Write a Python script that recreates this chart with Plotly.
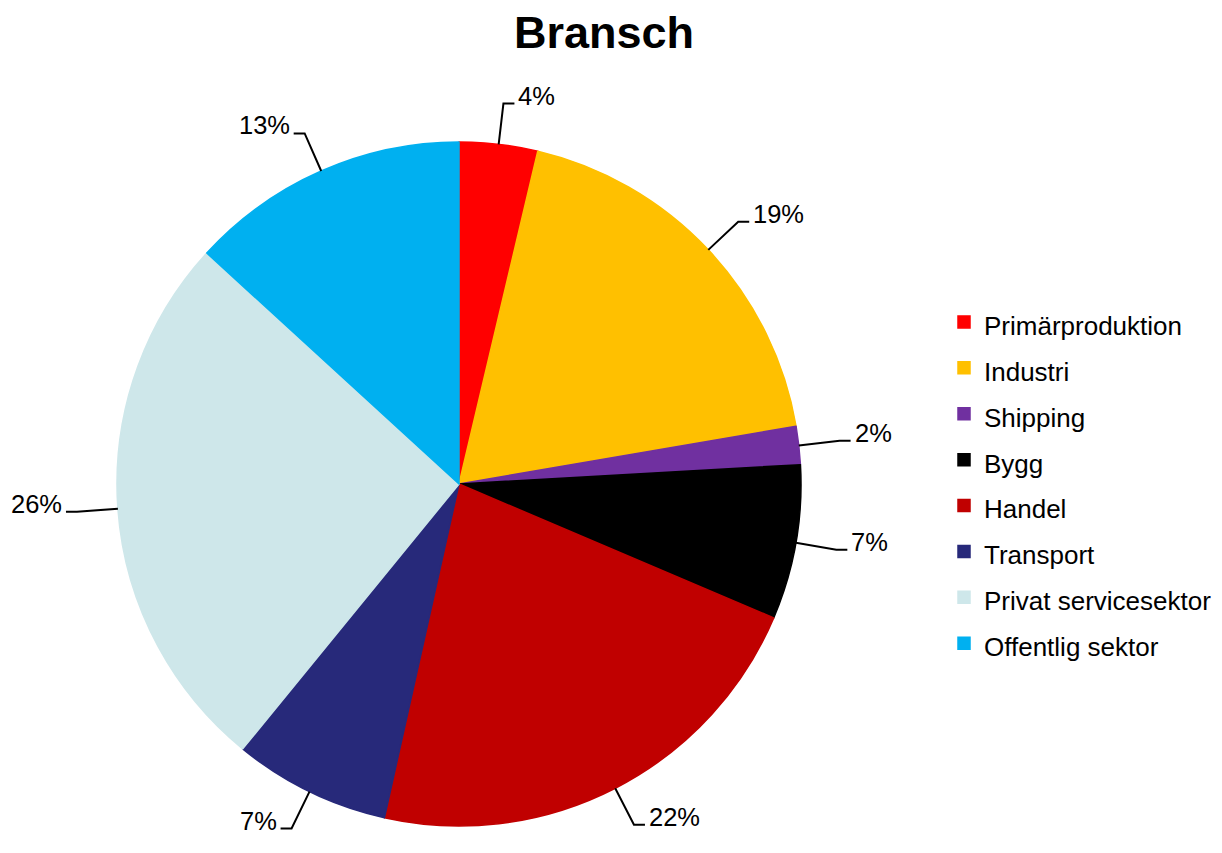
import math
import plotly.graph_objects as go

# ---- data ----
categories = ["Primärproduktion", "Industri", "Shipping", "Bygg", "Handel",
              "Transport", "Privat servicesektor", "Offentlig sektor"]
values = [3.7, 18.6, 1.8, 7.3, 22.1, 7.4, 25.9, 13.2]
colors = ["#FF0000", "#FFC000", "#7030A0", "#000000", "#C00000",
          "#27297A", "#CEE7EA", "#00B0F0"]
title_text = "Bransch"

# ---- layout constants (page pixels) ----
W, H = 1222, 853
BODY = 8                            # default page margin around the plot div
CX, CY, R = 459 - BODY, 484 - BODY, 342
ELBOW_R = 1.12                      # leader-line elbow distance (fraction of R)
TAIL = 11                           # horizontal leader segment, px
FONT = "Liberation Sans, Arial, Helvetica, sans-serif"


def px(x):
    return x / W


def py(y):
    return 1 - y / H


dom_x = [(CX - R) / W, (CX + R) / W]
dom_y = [(H - CY - R) / H, (H - CY + R) / H]

legend_labels = [f"<span style='font-size:26px'>{c}</span>" for c in categories]

fig = go.Figure(go.Pie(
    labels=legend_labels,
    values=values,
    sort=False,
    direction="clockwise",
    rotation=0,
    marker=dict(colors=colors, line=dict(width=1.5, color=colors)),
    textinfo="none",
    hoverinfo="label+percent",
    domain=dict(x=dom_x, y=dom_y),
))

# leader lines and percentage labels computed from the data
total = sum(values)
annotations = []
shapes = []
cum = 0.0
for v in values:
    mid = (cum + v / 2) / total * 2 * math.pi
    cum += v
    sx, sy = math.sin(mid), math.cos(mid)
    x0, y0 = CX + R * sx, CY - R * sy
    x1, y1 = CX + ELBOW_R * R * sx, CY - ELBOW_R * R * sy
    side = 1 if sx >= 0 else -1
    x2, y2 = x1 + side * TAIL, y1
    shapes.append(dict(
        type="path", xref="paper", yref="paper",
        path=f"M {px(x0)},{py(y0)} L {px(x1)},{py(y1)} L {px(x2)},{py(y2)}",
        line=dict(color="black", width=2),
    ))
    annotations.append(dict(
        x=px(x2 + side * 2), y=py(y2), xref="paper", yref="paper",
        xanchor="left" if side > 0 else "right", yanchor="middle", yshift=8,
        text=f"{round(v / total * 100)}%", showarrow=False,
        font=dict(size=25.5, color="black", family=FONT),
    ))

fig.update_layout(
    width=W, height=H,
    margin=dict(l=0, r=0, t=0, b=0),
    paper_bgcolor="white",
    plot_bgcolor="white",
    font=dict(family=FONT, color="black"),
    title=dict(text=f"<b>{title_text}</b>", x=px(604 - BODY), xanchor="center",
               y=py(32 - BODY), yanchor="middle", yref="container",
               font=dict(size=45, family=FONT, color="black")),
    legend=dict(x=px(944 - BODY), xanchor="left", y=py(483 - BODY), yanchor="middle",
                font=dict(size=33, family=FONT, color="black"),
                bgcolor="rgba(0,0,0,0)", borderwidth=0),
    annotations=annotations,
    shapes=shapes,
)

fig.write_html("out.html")
